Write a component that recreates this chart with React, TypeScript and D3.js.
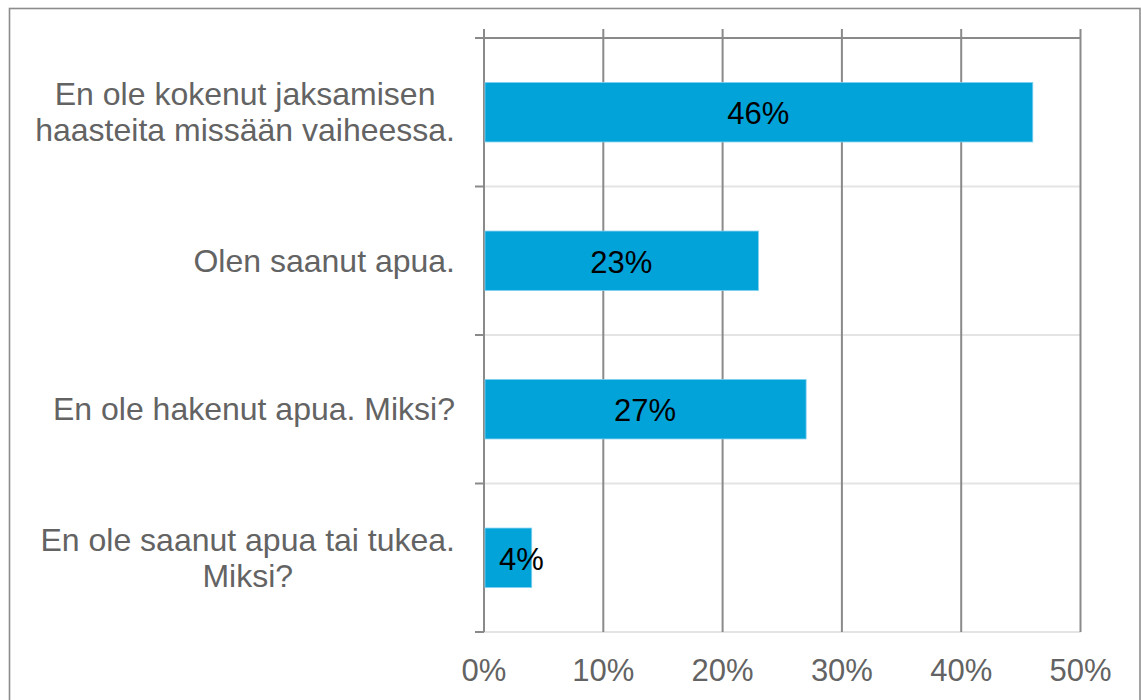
import React, { useEffect, useRef } from "react";
import * as d3 from "d3";

// data
const categories = [
  "En ole kokenut jaksamisen|haasteita missään vaiheessa.",
  "Olen saanut apua.",
  "En ole hakenut apua. Miksi?",
  "En ole saanut apua tai tukea.|Miksi?",
];
const values = [46, 23, 27, 4];
const xTicks = [0, 10, 20, 30, 40, 50];

const W = 1141;
const H = 700;
const FONT = "'Liberation Sans', Arial, sans-serif";
const GRID = "#8a8a8a";
const LIGHT = "#e4e4e4";
const TEXT = "#636363";
const BAR = "#02a3d9";

const App = () => {
  const ref = useRef<SVGSVGElement | null>(null);

  useEffect(() => {
    const svg = d3.select(ref.current);
    svg.selectAll("*").remove();

    const left = 484;
    const right = 1080.5;
    const top = 38;
    const bottom = 632;

    const x = d3.scaleLinear().domain([0, 50]).range([left, right]);
    const y = d3
      .scaleBand<string>()
      .domain(categories)
      .range([top, bottom])
      .paddingInner(0.6)
      .paddingOuter(0.3);
    const step = y.step();

    // outer border
    svg
      .append("rect")
      .attr("x", 9.5)
      .attr("y", 8.5)
      .attr("width", 1130.5)
      .attr("height", 720)
      .attr("fill", "#fff")
      .attr("stroke", "#8c8c8c")
      .attr("stroke-width", 1.6);

    // horizontal category separators
    const seps = d3.range(categories.length + 1).map((i) => top + i * step);
    svg
      .selectAll("line.sep")
      .data(seps)
      .enter()
      .append("line")
      .attr("x1", left)
      .attr("x2", right)
      .attr("y1", (d) => d)
      .attr("y2", (d) => d)
      .attr("stroke", (_, i) => (i === 0 ? GRID : LIGHT))
      .attr("stroke-width", 2);

    // vertical gridlines
    svg
      .selectAll("line.grid")
      .data(xTicks)
      .enter()
      .append("line")
      .attr("x1", (d) => x(d))
      .attr("x2", (d) => x(d))
      .attr("y1", 29)
      .attr("y2", bottom)
      .attr("stroke", GRID)
      .attr("stroke-width", 2);

    // left ticks
    svg
      .selectAll("line.tick")
      .data(seps)
      .enter()
      .append("line")
      .attr("x1", left - 9)
      .attr("x2", left)
      .attr("y1", (d) => d)
      .attr("y2", (d) => d)
      .attr("stroke", GRID)
      .attr("stroke-width", 2);

    // bars
    svg
      .selectAll("rect.bar")
      .data(values)
      .enter()
      .append("rect")
      .attr("x", x(0) + 1)
      .attr("y", (_, i) => y(categories[i]) as number)
      .attr("width", (d) => x(d) - x(0) - 1)
      .attr("height", y.bandwidth())
      .attr("fill", BAR)
      .attr("stroke", "#7ccff0")
      .attr("stroke-width", 0.8);

    // value labels (centred on the bar, but kept off the axis)
    const vals = svg
      .selectAll("text.val")
      .data(values)
      .enter()
      .append("text")
      .attr("y", (_, i) => (y(categories[i]) as number) + y.bandwidth() / 2 + 12)
      .attr("text-anchor", "middle")
      .attr("font-family", FONT)
      .attr("font-size", 31)
      .attr("fill", "#000")
      .text((d) => `${d}%`);
    vals.attr("x", function (d) {
      const w = (this as SVGTextElement).getComputedTextLength();
      return Math.max((x(0) + x(d)) / 2, x(0) + 15 + w / 2);
    });

    // x tick labels
    svg
      .selectAll("text.xt")
      .data(xTicks)
      .enter()
      .append("text")
      .attr("x", (d) => x(d))
      .attr("y", 681)
      .attr("text-anchor", "middle")
      .attr("font-family", FONT)
      .attr("font-size", 31)
      .attr("fill", TEXT)
      .text((d) => `${d}%`);

    // category labels, right aligned block, lines centred within it
    const labelRight = 455;
    const lineH = 36;
    categories.forEach((c) => {
      const lines = c.split("|");
      const cy = (y(c) as number) + y.bandwidth() / 2;
      const g = svg.append("g");
      const texts = lines.map((ln, j) =>
        g
          .append("text")
          .attr("y", cy + 11 + (j - (lines.length - 1) / 2) * lineH)
          .attr("text-anchor", "middle")
          .attr("font-family", FONT)
          .attr("font-size", 32)
          .attr("fill", TEXT)
          .text(ln)
      );
      const widths = texts.map((t) => (t.node() as SVGTextElement).getComputedTextLength());
      const maxW = d3.max(widths) ?? 0;
      texts.forEach((t) => t.attr("x", labelRight - maxW / 2));
    });
  }, []);

  return (
    <svg
      ref={ref}
      width={W}
      height={H}
      style={{ position: "absolute", left: 0, top: 0, background: "#fff" }}
    />
  );
};

export default App;
